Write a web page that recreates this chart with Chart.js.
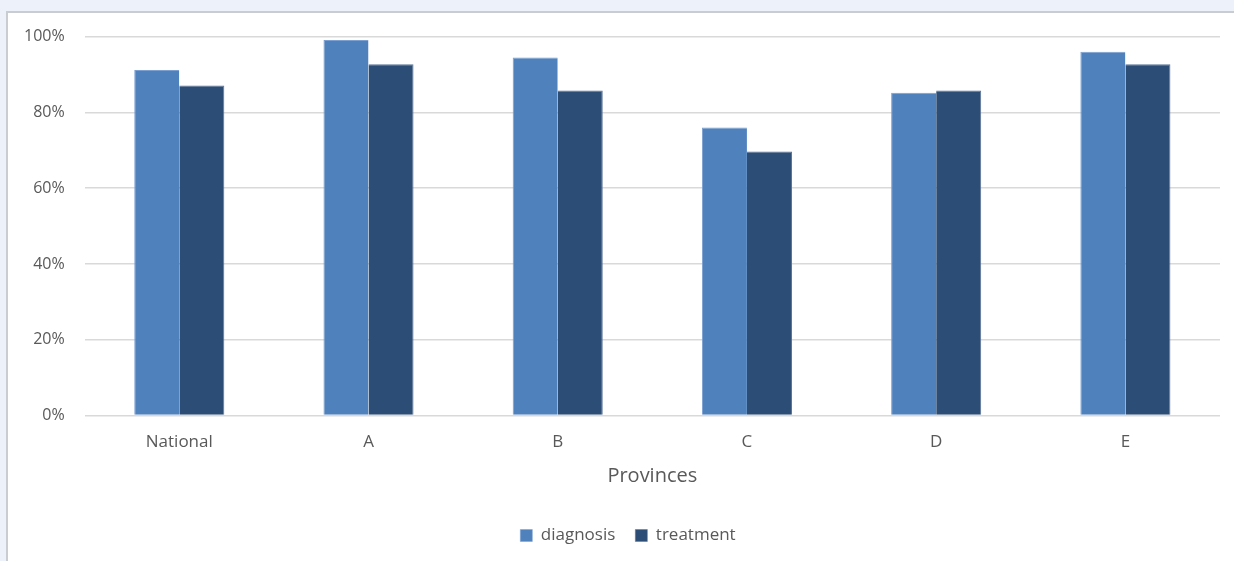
<!DOCTYPE html>
<html>
<head>
<meta charset="utf-8">
<script src="https://cdn.jsdelivr.net/npm/chart.js@4.4.1/dist/chart.umd.min.js"></script>
<style>
  html, body { margin: 0; padding: 0; background: #edf1f9; width: 1234px; height: 561px; overflow: hidden; }
  #frame { position: absolute; left: 6px; top: 11px; width: 1228px; height: 550px; background: #ffffff;
           border-left: 2px solid #c9ccd1; border-top: 2px solid #c9ccd1; }
  #wrap { position: absolute; left: -19px; top: -6px; width: 1245px; height: 554px; }
</style>
</head>
<body>
<div id="frame"><div id="wrap"><canvas id="c"></canvas></div></div>
<script>
const categories = ["National", "A", "B", "C", "D", "E"];
const diagnosis = [91.2, 99.1, 94.5, 76.0, 85.2, 96.0];
const treatment = [87.1, 92.7, 85.8, 69.7, 85.8, 92.7];
const yTicks = [0, 20, 40, 60, 80, 100];
const axisTitle = "Provinces";

const FONT = "'Open Sans', sans-serif";
const TXT = '#595959';
const legendShift = {
  id: 'legendShift',
  afterLayout(chart) {
    const lg = chart.legend;
    if (lg) { lg.left += 16; lg.right += 16; }
  }
};
new Chart(document.getElementById('c'), {
  type: 'bar',
  data: {
    labels: categories,
    datasets: [
      { label: 'diagnosis', data: diagnosis, backgroundColor: '#4f81bd', borderColor: '#7a9fd0', borderWidth: {top:1,left:1,right:0,bottom:0} },
      { label: 'treatment', data: treatment, backgroundColor: '#2c4d75', borderColor: '#5a7396', borderWidth: {top:1,left:0,right:1,bottom:0} }
    ]
  },
  plugins: [legendShift],
  options: {
    responsive: true,
    maintainAspectRatio: false,
    animation: false,
    datasets: { bar: { barPercentage: 1.0, categoryPercentage: 0.476 } },
    layout: { padding: { left: 15, right: 14, top: 3, bottom: 7 } },
    plugins: {
      legend: {
        position: 'bottom',
        labels: { boxWidth: 12, boxHeight: 12, color: TXT, font: { family: FONT, size: 17 }, padding: 20 }
      },
      tooltip: { enabled: false }
    },
    scales: {
      x: {
        grid: { display: false },
        border: { display: false },
        ticks: { color: TXT, font: { family: FONT, size: 17 }, padding: 8 },
        title: { display: true, text: axisTitle, color: TXT, font: { family: FONT, size: 20 }, padding: { top: 4, bottom: 19 } }
      },
      y: {
        min: 0, max: 100,
        afterBuildTicks: (axis) => { axis.ticks = yTicks.map(v => ({ value: v })); },
        grid: { color: '#d9d9d9', lineWidth: 1.5, drawTicks: false },
        border: { display: false },
        ticks: { color: TXT, font: { family: FONT, size: 16 }, padding: 20, callback: v => v + '%' }
      }
    }
  }
});
</script>
</body>
</html>
